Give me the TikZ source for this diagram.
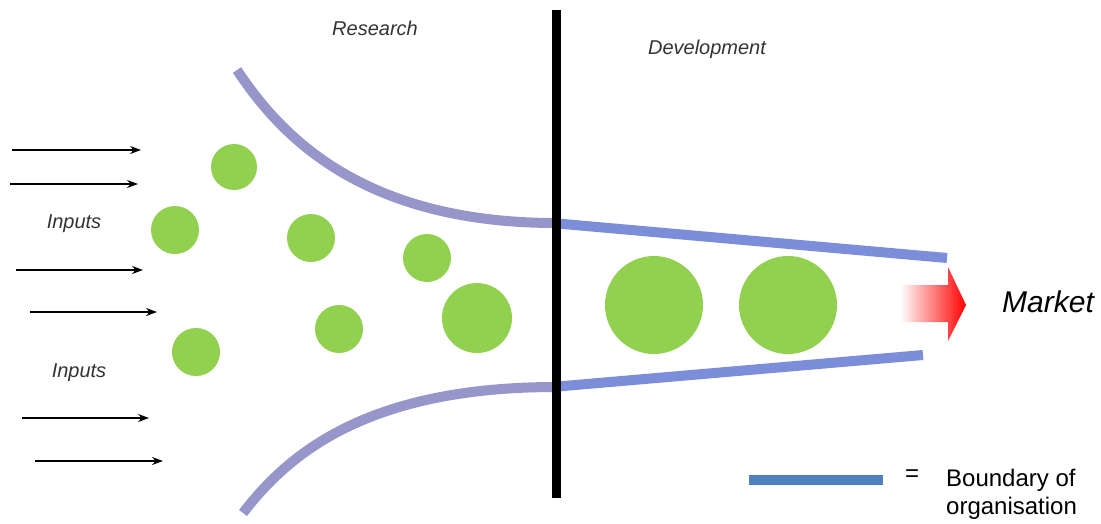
\documentclass[tikz,border=0pt]{standalone}
\usepackage{fontspec}
\setmainfont{Liberation Sans}
\usetikzlibrary{arrows.meta,shadings}
\definecolor{bubble}{RGB}{146,208,80}
\definecolor{bndL}{RGB}{150,150,202}
\definecolor{bndR}{RGB}{124,142,218}
\definecolor{legend}{RGB}{79,129,189}
\tikzset{
  bub/.style={circle,fill=bubble,inner sep=0pt,minimum size=#1},
  inarrow/.style={-{Stealth[length=11pt,width=8pt]},line width=1.3pt},
  lbl/.style={font=\itshape\fontsize{20}{24}\selectfont,text=black!80,inner sep=0pt},
  bnd/.style={line width=10pt},
}
\begin{document}
\begin{tikzpicture}[x=1pt,y=-1pt]
\useasboundingbox (0,0) rectangle (1101,523);
\fill[white] (0,0) rectangle (1101,523);
% curved boundaries
\draw[bnd,color=bndL] (237,70) .. controls (277,130) and (356,223) .. (556,223);
\draw[bnd,color=bndL] (243,513) .. controls (288,454.5) and (366,387) .. (556,387);
\draw[bnd,color=bndR] (552,223) -- (947,258);
\draw[bnd,color=bndR] (552,387) -- (923,355);
% divider
\draw[line width=9pt] (556,10) -- (556,498);
% bubbles
\node[bub=46pt] (b1) at (234,167) {};
\node[bub=48pt] (b2) at (175,230) {};
\node[bub=48pt] (b3) at (311,238) {};
\node[bub=48pt] (b4) at (427,258) {};
\node[bub=70pt] (b5) at (477,318) {};
\node[bub=48pt] (b6) at (339,329) {};
\node[bub=48pt] (b7) at (196,352) {};
\node[bub=98pt] (b8) at (654,305) {};
\node[bub=98pt] (b9) at (788,305) {};
% input arrows
\coordinate (a1s) at (12,150);  \coordinate (a1e) at (141,150);
\coordinate (a2s) at (10,184);  \coordinate (a2e) at (138,184);
\coordinate (a3s) at (16,270);  \coordinate (a3e) at (143,270);
\coordinate (a4s) at (30,312);  \coordinate (a4e) at (157,312);
\coordinate (a5s) at (22,418);  \coordinate (a5e) at (149,418);
\coordinate (a6s) at (35,461);  \coordinate (a6e) at (163,461);
\foreach \k in {1,...,6}{\draw[inarrow] (a\k s) -- (a\k e);}
% labels
\node[lbl] (in1) at (74,224) {Inputs};
\node[lbl] (in2) at (79,373) {Inputs};
\node[lbl] (res) at (375,28) {Research};
\node[lbl] (dev) at (707,49) {Development};
% market arrow
\shade[left color=white,right color=red,shading angle=90]
  (900,285) -- (948,285) -- (948,267) -- (966,305) -- (948,341) -- (948,322) -- (900,322) -- cycle;
\node[font=\itshape\fontsize{30}{34}\selectfont,inner sep=0pt] (mkt) at (1048,302) {Market};
% legend
\coordinate (lg1) at (749,480); \coordinate (lg2) at (883,480);
\draw[line width=10pt,color=legend] (lg1) -- (lg2);
\node[font=\fontsize{24}{28}\selectfont,inner sep=0pt] (eq) at (912,476) {=};
\node[font=\fontsize{24}{28}\selectfont,inner sep=0pt,align=left,anchor=west] (bo) at (946,494) {Boundary of\\organisation};
\end{tikzpicture}
\end{document}
